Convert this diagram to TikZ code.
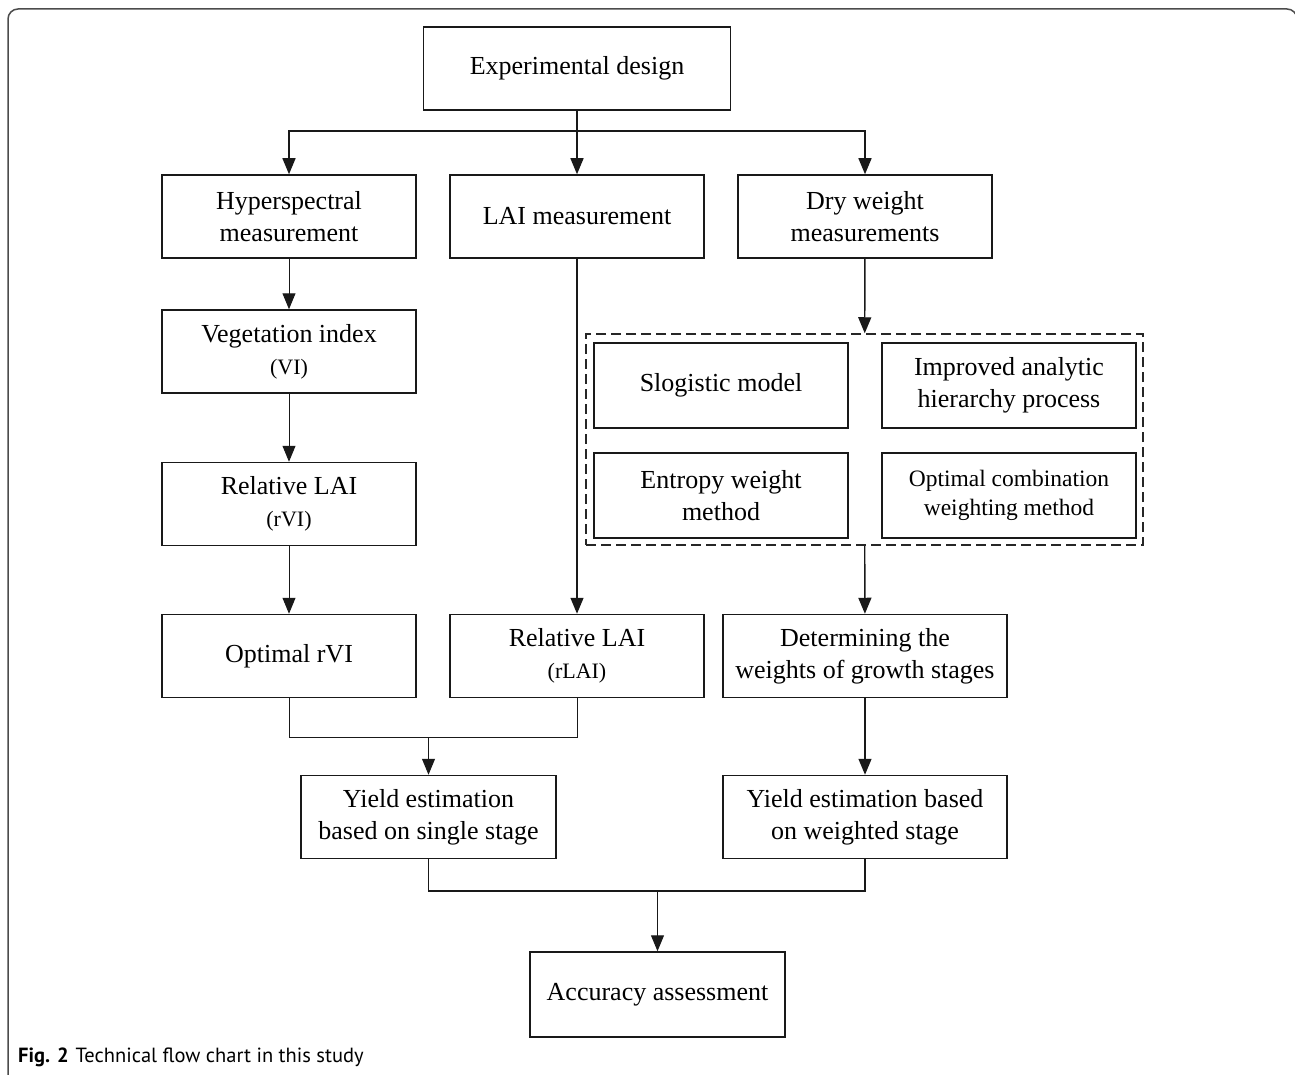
\documentclass[tikz,border=0pt]{standalone}
\usepackage{fontspec}
\setmainfont{Liberation Serif}
\newfontfamily\capfont{PT Sans}
\usetikzlibrary{arrows.meta}
\tikzset{
  box/.style={draw=black!90, line width=1.5pt, minimum width=254pt, minimum height=83pt, align=center, inner sep=0pt, font=\fontsize{26}{32}\selectfont},
  arr/.style={-{Triangle[width=13pt,length=16pt]}, line width=1.4pt, draw=black!90},
  thinarr/.style={-{Triangle[width=13pt,length=16pt]}, line width=1pt, draw=black!90},
  ln/.style={line width=1.4pt, draw=black!90},
  thinln/.style={line width=1pt, draw=black!90},
  small/.style={font=\fontsize{23.5}{29}\selectfont}
}
\begin{document}
\begin{tikzpicture}[x=1pt,y=-1pt]
\useasboundingbox (0,0) rectangle (1295,1075);
\begin{scope}
\clip (0,0) rectangle (1295,1075);
\draw[black!70, line width=1.5pt, rounded corners=10pt] (8,1120) -- (8,9) -- (1297,9) -- (1297,1120);
\end{scope}

\node[box, minimum width=307pt] (exp) at (577,68.5) {Experimental design};
\node[box] (hyp) at (289,216.5) {Hyperspectral\\measurement};
\node[box] (lai) at (577,216.5) {LAI measurement};
\node[box] (dry) at (865,216.5) {Dry weight\\measurements};
\node[box] (vi) at (289,351.5) {Vegetation index\\{\fontsize{22}{28}\selectfont (VI)}};
\node[box] (rvi) at (289,504) {Relative LAI\\{\fontsize{22}{28}\selectfont (rVI)}};
\node[box] (opt) at (289,656) {Optimal rVI};
\node[box] (rlai) at (577,656) {Relative LAI\\{\fontsize{22}{28}\selectfont (rLAI)}};
\node[box, draw=black!85, dash pattern=on 10pt off 5pt, minimum width=557pt, minimum height=211pt] (grp) at (864.5,439.5) {};
\node[box, minimum height=85pt] (slog) at (721,385.5) {Slogistic model};
\node[box, minimum height=85pt] (ahp) at (1009,385.5) {Improved analytic\\hierarchy process};
\node[box, minimum height=85pt] (ent) at (721,495.5) {Entropy weight\\method};
\node[box, minimum height=85pt, small] (ocw) at (1009,495.5) {Optimal combination\\weighting method};
\node[box, minimum width=284pt] (det) at (865,656) {Determining the\\weights of growth stages};
\node[box, minimum width=255pt] (sing) at (428.5,817) {Yield estimation\\based on single stage};
\node[box, minimum width=284pt] (wt) at (865,817) {Yield estimation based\\on weighted stage};
\node[box, minimum width=255pt, minimum height=85pt] (acc) at (657.5,994.5) {Accuracy assessment};

\coordinate (b1) at (577,131);
\coordinate (j1) at (428.5,737);
\coordinate (j2) at (657.5,891);

\draw[ln] (exp.south) -- (b1);
\draw[arr] (b1) -| (hyp.north);
\draw[arr] (b1) -- (lai.north);
\draw[arr] (b1) -| (dry.north);
\draw[thinarr] (hyp) -- (vi);
\draw[thinarr] (vi) -- (rvi);
\draw[thinarr] (rvi) -- (opt);
\draw[arr] (lai) -- (rlai);
\draw[arr] (dry) -- (grp);
\draw[arr] (grp) -- (det);
\draw[arr] (det) -- (wt);
\draw[thinln] (opt.south) |- (j1);
\draw[thinln] (rlai.south) |- (j1);
\draw[thinarr] (j1) -- (sing.north);
\draw[ln] (sing.south) |- (j2);
\draw[ln] (wt.south) |- (j2);
\draw[thinarr] (j2) -- (acc.north);

\node[anchor=base west, inner sep=0pt, font=\capfont\fontsize{20.5}{24}\selectfont] (cap) at (18,1062) {\textbf{Fig. 2}\hspace{7pt}Technical flow chart in this study};
\end{tikzpicture}
\end{document}
